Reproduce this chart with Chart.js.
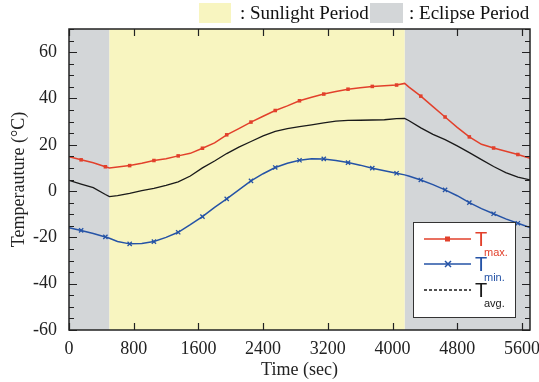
<!DOCTYPE html>
<html>
<head>
<meta charset="utf-8">
<script src="https://cdn.jsdelivr.net/npm/chart.js@4.4.0/dist/chart.umd.min.js"></script>
<style>
html, body { margin: 0; padding: 0; background: #fff; }
</style>
</head>
<body>
<canvas id="myChart" width="539" height="382"></canvas>
<script>
// data
var timeSec = [0, 150, 300, 450, 500, 600, 750, 900, 1050, 1200, 1350, 1500, 1650, 1800, 1950,
    2100, 2250, 2400, 2550, 2700, 2850, 3000, 3150, 3300, 3450, 3600, 3750, 3900, 4050, 4150,
    4200, 4350, 4500, 4650, 4800, 4950, 5100, 5250, 5400, 5550, 5700];
var tMax = [14.8, 13.5, 12.2, 10.5, 10.0, 10.4, 11.0, 12.0, 13.2, 14.0, 15.2, 16.3, 18.5, 20.8, 24.3,
    27.0, 29.8, 32.3, 34.8, 36.8, 39.0, 40.5, 41.9, 43.0, 44.0, 44.6, 45.2, 45.5, 45.8, 46.5,
    45.0, 41.0, 36.5, 32.0, 27.5, 23.4, 20.2, 18.6, 17.2, 15.8, 14.2];
var tAvg = [4.6, 3.0, 1.5, -1.5, -2.4, -2.0, -1.0, 0.2, 1.2, 2.5, 4.0, 6.5, 10.0, 13.0, 16.2,
    19.0, 21.4, 23.8, 25.8, 27.0, 27.8, 28.6, 29.5, 30.2, 30.5, 30.6, 30.7, 30.8, 31.3, 31.4,
    30.5, 27.3, 24.5, 22.2, 19.5, 16.6, 13.6, 10.6, 8.0, 6.0, 4.8];
var tMin = [-15.8, -17.0, -18.3, -19.8, -20.4, -21.8, -22.8, -22.6, -21.8, -20.0, -17.8, -14.5, -11.0, -7.0, -3.4,
    0.5, 4.4, 7.5, 10.2, 12.0, 13.3, 14.0, 13.9, 13.2, 12.3, 11.2, 9.9, 8.8, 7.7, 7.0,
    6.5, 4.8, 2.8, 0.5, -2.0, -5.0, -7.6, -9.8, -12.0, -13.9, -15.7];
var xTicks = [0, 800, 1600, 2400, 3200, 4000, 4800, 5600];
var yTicks = [-60, -40, -20, 0, 20, 40, 60];
var sunStart = 500;
var sunEnd = 4150;

var RED = '#e2402b';
var BLUE = '#2553a6';
var BLACK = '#1a1a1a';
var SUN = '#f8f5c0';
var ECL = '#d3d6d8';
var serif = '"Liberation Serif", "Times New Roman", serif';
var sans = '"Liberation Sans", Arial, sans-serif';

function pts(vals) {
    return timeSec.map(function (t, i) { return { x: t, y: vals[i] }; });
}
function markerRadius(r) {
    return function (c) { return (c.raw && (c.raw.x - 150) % 300 === 0) ? r : 0; };
}

// eclipse / sunlight shading behind the lines
var shading = {
    id: 'shading',
    beforeDatasetsDraw: function (chart) {
        var ctx = chart.ctx, a = chart.chartArea, x = chart.scales.x;
        var p1 = x.getPixelForValue(sunStart), p2 = x.getPixelForValue(sunEnd);
        ctx.save();
        ctx.fillStyle = ECL;
        ctx.fillRect(a.left, a.top, p1 - a.left, a.bottom - a.top);
        ctx.fillRect(p2, a.top, a.right - p2, a.bottom - a.top);
        ctx.fillStyle = SUN;
        ctx.fillRect(p1, a.top, p2 - p1, a.bottom - a.top);
        ctx.restore();
    }
};

// frame, inward ticks, legends
var frame = {
    id: 'frame',
    afterDatasetsDraw: function (chart) {
        var ctx = chart.ctx, a = chart.chartArea, x = chart.scales.x, y = chart.scales.y;
        ctx.save();
        ctx.strokeStyle = '#222';
        ctx.lineWidth = 1.2;
        ctx.beginPath();
        xTicks.forEach(function (v) {
            var px = Math.round(x.getPixelForValue(v)) + 0.5;
            ctx.moveTo(px, a.bottom); ctx.lineTo(px, a.bottom - 7);
            ctx.moveTo(px, a.top); ctx.lineTo(px, a.top + 7);
        });
        for (var v = -60; v <= 70; v += 5) {
            var py = Math.round(y.getPixelForValue(v)) + 0.5;
            var len = (v % 20 === 0) ? 8 : 5;
            ctx.moveTo(a.left, py); ctx.lineTo(a.left + len, py);
            ctx.moveTo(a.right, py); ctx.lineTo(a.right - len, py);
        }
        ctx.stroke();
        ctx.lineWidth = 1.5;
        ctx.strokeRect(a.left, a.top, a.right - a.left, a.bottom - a.top);

        // inner legend box
        var bx = a.right - 117, by = a.top + 193, bw = 102, bh = 95;
        ctx.fillStyle = '#fff';
        ctx.fillRect(bx, by, bw, bh);
        ctx.lineWidth = 1;
        ctx.strokeStyle = '#333';
        ctx.strokeRect(bx + 0.5, by + 0.5, bw, bh);
        var rows = [
            { color: RED, sub: 'max.', dash: [], marker: 'rect', y: by + 17 },
            { color: BLUE, sub: 'min.', dash: [], marker: 'cross', y: by + 42 },
            { color: BLACK, sub: 'avg.', dash: [3, 2], marker: null, y: by + 68 }
        ];
        rows.forEach(function (r) {
            ctx.strokeStyle = r.color;
            ctx.lineWidth = 1.5;
            ctx.setLineDash(r.dash);
            ctx.beginPath();
            ctx.moveTo(bx + 11, r.y); ctx.lineTo(bx + 58, r.y);
            ctx.stroke();
            ctx.setLineDash([]);
            if (r.marker === 'rect') {
                ctx.fillStyle = r.color;
                ctx.fillRect(bx + 32, r.y - 2.5, 5, 5);
            } else if (r.marker === 'cross') {
                ctx.beginPath();
                ctx.moveTo(bx + 32, r.y - 3); ctx.lineTo(bx + 38, r.y + 3);
                ctx.moveTo(bx + 32, r.y + 3); ctx.lineTo(bx + 38, r.y - 3);
                ctx.stroke();
            }
            ctx.fillStyle = r.color;
            ctx.textAlign = 'left';
            ctx.textBaseline = 'middle';
            ctx.font = '20px ' + sans;
            ctx.fillText('T', bx + 62, r.y + 1);
            ctx.font = '11px ' + sans;
            ctx.fillText(r.sub, bx + 71, r.y + 14);
        });

        // period legend above the plot
        ctx.fillStyle = SUN;
        ctx.fillRect(199, 3, 32, 20);
        ctx.fillStyle = ECL;
        ctx.fillRect(370, 3, 33, 20);
        ctx.fillStyle = '#111';
        ctx.font = '19px ' + serif;
        ctx.textBaseline = 'middle';
        ctx.fillText(': Sunlight Period', 240, 14);
        ctx.fillText(': Eclipse Period', 409, 14);
        ctx.restore();
    }
};

var ctx = document.getElementById('myChart').getContext('2d');
var myChart = new Chart(ctx, {
    type: 'line',
    data: {
        datasets: [
            {
                label: 'T max.',
                data: pts(tMax),
                borderColor: RED,
                backgroundColor: RED,
                borderWidth: 1.5,
                pointStyle: 'rect',
                pointRadius: markerRadius(2.5),
                pointBorderWidth: 0,
                tension: 0,
                fill: false
            },
            {
                label: 'T avg.',
                data: pts(tAvg),
                borderColor: BLACK,
                borderWidth: 1.3,
                pointRadius: 0,
                tension: 0,
                fill: false
            },
            {
                label: 'T min.',
                data: pts(tMin),
                borderColor: BLUE,
                backgroundColor: BLUE,
                borderWidth: 1.5,
                pointStyle: 'crossRot',
                pointRadius: markerRadius(3),
                pointBorderWidth: 1.3,
                tension: 0,
                fill: false
            }
        ]
    },
    options: {
        responsive: false,
        animation: false,
        devicePixelRatio: 1,
        layout: { padding: { top: 29, right: 9, left: 0, bottom: 0 } },
        plugins: {
            legend: { display: false },
            tooltip: { enabled: false }
        },
        scales: {
            x: {
                type: 'linear',
                min: 0,
                max: 5700,
                grid: { display: false, drawTicks: false },
                border: { display: false },
                afterBuildTicks: function (s) { s.ticks = xTicks.map(function (v) { return { value: v }; }); },
                afterFit: function (s) { s.height = 52; s.paddingLeft = 0; s.paddingRight = 0; },
                ticks: {
                    color: '#222',
                    padding: 8,
                    maxRotation: 0,
                    callback: function (v) { return String(v); },
                    font: { family: serif, size: 18 }
                },
                title: {
                    display: true,
                    text: 'Time (sec)',
                    color: '#222',
                    padding: { top: 0, bottom: 1 },
                    font: { family: serif, size: 18 }
                }
            },
            y: {
                type: 'linear',
                min: -60,
                max: 70,
                grid: { display: false, drawTicks: false },
                border: { display: false },
                afterBuildTicks: function (s) { s.ticks = yTicks.map(function (v) { return { value: v }; }); },
                afterFit: function (s) { s.width = 69; s.paddingTop = 0; s.paddingBottom = 0; },
                ticks: {
                    color: '#222',
                    padding: 12,
                    callback: function (v) { return String(v); },
                    font: { family: serif, size: 18 }
                },
                title: {
                    display: true,
                    text: 'Temperauture (°C)',
                    color: '#222',
                    padding: { top: 8, bottom: 0 },
                    font: { family: serif, size: 18 }
                }
            }
        }
    },
    plugins: [shading, frame]
});
</script>
</body>
</html>
